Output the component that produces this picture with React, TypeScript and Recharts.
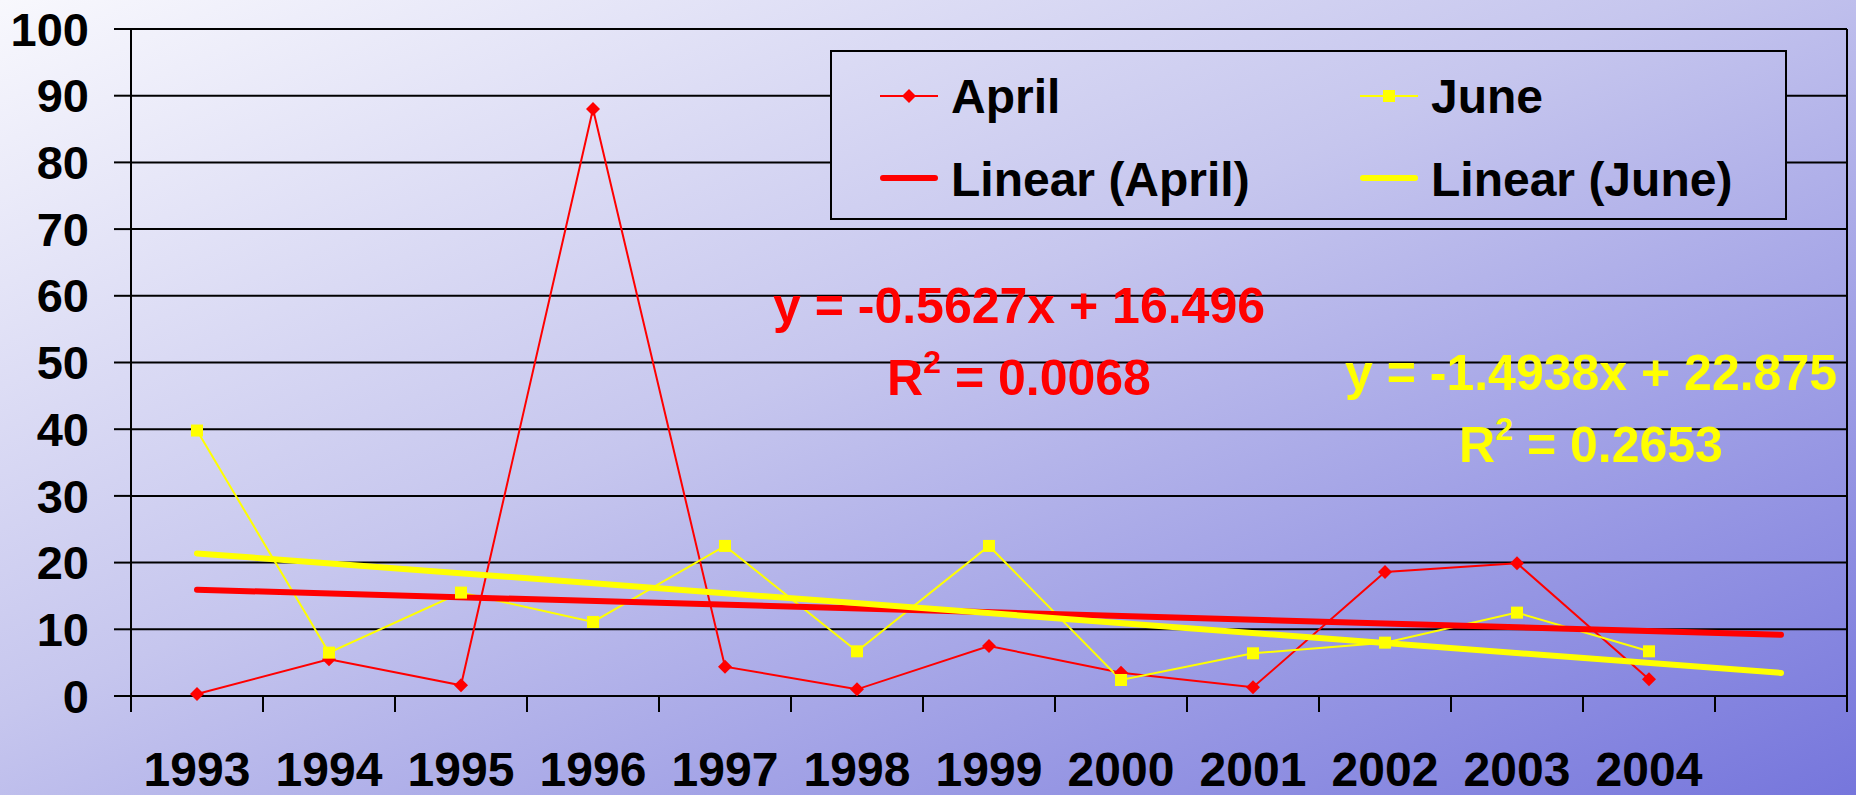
import {
  CartesianGrid,
  Legend,
  Line,
  LineChart,
  ReferenceLine,
  XAxis,
  YAxis,
} from "recharts";

const years = ["1993", "1994", "1995", "1996", "1997", "1998", "1999", "2000", "2001", "2002", "2003", "2004"];
const aprilValues = [0.3, 5.5, 1.6, 88.0, 4.4, 1.0, 7.5, 3.5, 1.3, 18.6, 19.9, 2.5];
const juneValues = [39.8, 6.5, 15.5, 11.1, 22.5, 6.7, 22.5, 2.4, 6.4, 8.0, 12.5, 6.7];
// trendlines: first and last (forecast one period forward) points
const aprilTrendEnds = [15.93, 9.18];
const juneTrendEnds = [21.38, 3.46];
const yTicks = [0, 10, 20, 30, 40, 50, 60, 70, 80, 90, 100];

const CHART_W = 1856;
const CHART_H = 795;
const Y_AXIS_W = 131;
const X_AXIS_H = 99;
const MARGIN = { top: 29, right: 9, bottom: 0, left: 0 };
const categoryCount = years.length + 1;
const HALF_BAND = (CHART_W - MARGIN.right - Y_AXIS_W) / categoryCount / 2;
const FONT = '"Liberation Sans", Arial, sans-serif';
const BG = "linear-gradient(to bottom right, #f8f8fd 0%, #c6c6ee 45%, #7676dc 100%)";

type Row = {
  x: number;
  april?: number;
  june?: number;
  aprilTrend: number | null;
  juneTrend: number | null;
};

const rows: Row[] = Array.from({ length: categoryCount }, (_, i) => ({
  x: i + 0.5,
  april: aprilValues[i],
  june: juneValues[i],
  aprilTrend: i === 0 ? aprilTrendEnds[0] : i === categoryCount - 1 ? aprilTrendEnds[1] : null,
  juneTrend: i === 0 ? juneTrendEnds[0] : i === categoryCount - 1 ? juneTrendEnds[1] : null,
}));

function Diamond(props: any) {
  const { cx, cy, fill } = props;
  if (cx == null || cy == null) return <g />;
  const r = 7;
  return <polygon points={`${cx},${cy - r} ${cx + r},${cy} ${cx},${cy + r} ${cx - r},${cy}`} fill={fill} />;
}

function Square(props: any) {
  const { cx, cy, fill } = props;
  if (cx == null || cy == null) return <g />;
  return <rect x={cx - 6} y={cy - 6} width={12} height={12} fill={fill} />;
}

function YearTick(props: any) {
  const { x, y, payload } = props;
  const label = years[Math.round(payload.value)];
  if (!label) return <g />;
  return (
    <text x={x + HALF_BAND} y={y + 72} textAnchor="middle" fontSize={48} fontWeight={700} fontFamily={FONT} fill="#000">
      {label}
    </text>
  );
}

function LegendBox({ payload }: any) {
  const items = (payload ?? []) as any[];
  return (
    <svg width={957} height={170} style={{ display: "block" }}>
      <rect x={1} y={1} width={955} height={168} fill="none" stroke="#000" strokeWidth={2} />
      {items.map((item, i) => {
        const col = i % 2;
        const row = Math.floor(i / 2);
        const x0 = 50 + col * 480;
        const cy = row === 0 ? 46 : 128;
        const isTrend = String(item.dataKey).endsWith("Trend");
        const color = item.color;
        return (
          <g key={String(item.dataKey)}>
            {isTrend ? (
              <line x1={x0 + 3} x2={x0 + 55} y1={cy} y2={cy} stroke={color} strokeWidth={6} strokeLinecap="round" />
            ) : (
              <line x1={x0} x2={x0 + 58} y1={cy} y2={cy} stroke={color} strokeWidth={2} />
            )}
            {item.dataKey === "april" && <Diamond cx={x0 + 29} cy={cy} fill={color} />}
            {item.dataKey === "june" && <Square cx={x0 + 29} cy={cy} fill={color} />}
            <text x={x0 + 71} y={row === 0 ? 63 : 146} fontSize={48} fontWeight={700} fontFamily={FONT} fill="#000">
              {item.value}
            </text>
          </g>
        );
      })}
    </svg>
  );
}

function TrendLabel({ cx, y, color, eq, r2 }: { cx: number; y: number; color: string; eq: string; r2: string }) {
  return (
    <g fontFamily={FONT} fontWeight={700} fill={color} textAnchor="middle">
      <text x={cx} y={y} fontSize={50}>
        {eq}
      </text>
      <text x={cx} y={y + 72} fontSize={50}>
        R
        <tspan fontSize={32} dy={-22}>
          2
        </tspan>
        <tspan dy={22}> = {r2}</tspan>
      </text>
    </g>
  );
}

export default function App() {
  return (
    <div style={{ position: "absolute", left: 0, top: 0, width: CHART_W, height: CHART_H, background: BG, overflow: "hidden" }}>
      <LineChart width={CHART_W} height={CHART_H} data={rows} margin={MARGIN}>
        <CartesianGrid horizontal vertical={false} stroke="#000" strokeWidth={2} />
        <XAxis
          type="number"
          dataKey="x"
          domain={[0, categoryCount]}
          ticks={Array.from({ length: categoryCount + 1 }, (_, i) => i)}
          interval={0}
          height={X_AXIS_H}
          axisLine={{ stroke: "#000", strokeWidth: 2 }}
          tickLine={{ stroke: "#000", strokeWidth: 2 }}
          tickSize={16}
          tick={<YearTick />}
        />
        <YAxis
          domain={[0, 100]}
          ticks={yTicks}
          interval={0}
          width={Y_AXIS_W}
          axisLine={{ stroke: "#000", strokeWidth: 2 }}
          tickLine={{ stroke: "#000", strokeWidth: 2 }}
          tickSize={17}
          tickMargin={25}
          tick={{ fontSize: 47, fontWeight: 700, fill: "#000", fontFamily: FONT }}
        />
        <ReferenceLine x={categoryCount} stroke="#000" strokeWidth={2} />
        <Legend
          layout="horizontal"
          align="center"
          verticalAlign="middle"
          content={<LegendBox />}
          wrapperStyle={{
            left: 830,
            top: 50,
            width: 957,
            height: 170,
            background: BG,
            backgroundSize: `${CHART_W}px ${CHART_H}px`,
            backgroundPosition: "-830px -50px",
          }}
        />
        <Line
          dataKey="april"
          name="April"
          stroke="#ff0000"
          strokeWidth={2}
          dot={<Diamond fill="#ff0000" />}
          activeDot={false}
          isAnimationActive={false}
        />
        <Line
          dataKey="june"
          name="June"
          stroke="#ffff00"
          strokeWidth={2}
          dot={<Square fill="#ffff00" />}
          activeDot={false}
          isAnimationActive={false}
        />
        <Line
          dataKey="aprilTrend"
          name="Linear (April)"
          stroke="#ff0000"
          strokeWidth={6}
          strokeLinecap="round"
          connectNulls
          dot={false}
          activeDot={false}
          isAnimationActive={false}
        />
        <Line
          dataKey="juneTrend"
          name="Linear (June)"
          stroke="#ffff00"
          strokeWidth={6}
          strokeLinecap="round"
          connectNulls
          dot={false}
          activeDot={false}
          isAnimationActive={false}
        />
      </LineChart>
      <svg width={CHART_W} height={CHART_H} style={{ position: "absolute", left: 0, top: 0, pointerEvents: "none" }}>
        <TrendLabel cx={1019} y={323} color="#ff0000" eq="y = -0.5627x + 16.496" r2="0.0068" />
        <TrendLabel cx={1591} y={390} color="#ffff00" eq="y = -1.4938x + 22.875" r2="0.2653" />
      </svg>
    </div>
  );
}
